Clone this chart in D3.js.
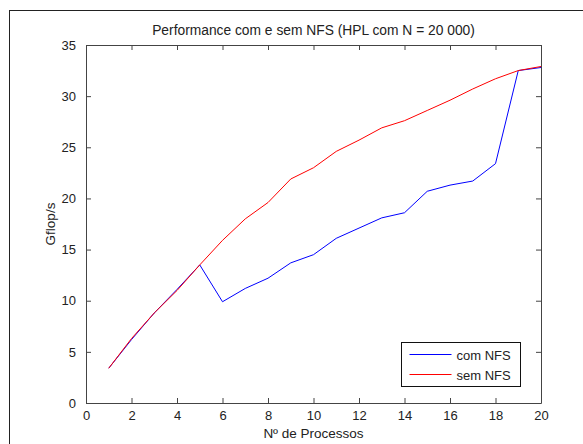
<!DOCTYPE html>
<html>
<head>
<meta charset="utf-8">
<script src="https://cdn.jsdelivr.net/npm/d3@7"></script>
<style>
  body { margin: 0; background: #fff; }
  text { font-family: "Liberation Sans", Arial, sans-serif; fill: #222; }
</style>
</head>
<body>
<svg id="chart" width="583" height="444"></svg>
<script>
// values
const processos = [1, 2, 3, 4, 5, 6, 7, 8, 9, 10, 11, 12, 13, 14, 15, 16, 17, 18, 19, 20];
const comNFS = [3.4, 6.2, 8.8, 11.1, 13.5, 9.9, 11.2, 12.2, 13.7, 14.5, 16.1, 17.1, 18.1, 18.6, 20.7, 21.3, 21.7, 23.4, 32.5, 32.8];
const semNFS = [3.4, 6.3, 8.8, 11.0, 13.5, 15.9, 18.0, 19.6, 21.9, 23.0, 24.6, 25.7, 26.9, 27.6, 28.6, 29.6, 30.7, 31.7, 32.5, 32.9];
const xTicks = [0, 2, 4, 6, 8, 10, 12, 14, 16, 18, 20];
const yTicks = [0, 5, 10, 15, 20, 25, 30, 35];
const seriesNames = ['com NFS', 'sem NFS'];
const seriesColours = ['#0000ff', '#ff0000'];

const svg = d3.select('svg#chart');
const margin = { top: 45, right: 42, bottom: 41, left: 86 };
const width = 583 - margin.left - margin.right;
const height = 444 - margin.top - margin.bottom;
const axisColour = '#444';

// outer figure frame
svg.append('rect')
  .attr('x', 9.5).attr('y', 10.5)
  .attr('width', 620).attr('height', 500)
  .attr('fill', 'none').attr('stroke', '#222');

const x = d3.scaleLinear().domain([0, 20]).range([0, width]);
const y = d3.scaleLinear().domain([0, 35]).range([height, 0]);

const g = svg.append('g').attr('transform', `translate(${margin.left},${margin.top})`);

const styleAxis = sel => {
  sel.select('.domain').attr('stroke', axisColour);
  sel.selectAll('.tick line').attr('stroke', axisColour);
  sel.selectAll('.tick text')
    .style('font-size', '13px')
    .style('fill', '#222');
};

// bottom and left axes with labels, ticks pointing inward
g.append('g').attr('transform', `translate(0,${height})`)
  .call(d3.axisBottom(x).tickValues(xTicks).tickSizeInner(-5).tickSizeOuter(0).tickPadding(8))
  .call(styleAxis);
g.append('g')
  .call(d3.axisLeft(y).tickValues(yTicks).tickSizeInner(-5).tickSizeOuter(0).tickPadding(10))
  .call(styleAxis);

// top and right axes (box), no labels
g.append('g')
  .call(d3.axisTop(x).tickValues(xTicks).tickSizeInner(-5).tickSizeOuter(0).tickFormat(''))
  .call(styleAxis);
g.append('g').attr('transform', `translate(${width},0)`)
  .call(d3.axisRight(y).tickValues(yTicks).tickSizeInner(-5).tickSizeOuter(0).tickFormat(''))
  .call(styleAxis);

// series
const line = d3.line().x((d, i) => x(processos[i])).y(d => y(d));
[comNFS, semNFS].forEach((s, i) => {
  g.append('path')
    .datum(s)
    .attr('fill', 'none')
    .attr('stroke', seriesColours[i])
    .attr('stroke-width', 1)
    .attr('d', line);
});

// title and axis labels
svg.append('text')
  .attr('x', margin.left + width / 2).attr('y', 35)
  .attr('text-anchor', 'middle')
  .style('font-size', '13.8px')
  .text('Performance com e sem NFS (HPL com N = 20 000)');

svg.append('text')
  .attr('x', margin.left + width / 2).attr('y', 438)
  .attr('text-anchor', 'middle')
  .style('font-size', '13.5px')
  .text('Nº de Processos');

svg.append('text')
  .attr('transform', `translate(55,${margin.top + height / 2}) rotate(-90)`)
  .attr('text-anchor', 'middle')
  .style('font-size', '13.5px')
  .text('Gflop/s');

// legend
const legend = svg.append('g').attr('transform', 'translate(401.5,342.5)');
legend.append('rect')
  .attr('width', 119).attr('height', 44)
  .attr('fill', '#fff').attr('stroke', '#111');
seriesNames.forEach((name, i) => {
  const ly = 12 + i * 20;
  legend.append('line')
    .attr('x1', 8).attr('x2', 50)
    .attr('y1', ly).attr('y2', ly)
    .attr('stroke', seriesColours[i]);
  legend.append('text')
    .attr('x', 55).attr('y', ly + 5)
    .style('font-size', '13px')
    .text(name);
});
</script>
</body>
</html>
